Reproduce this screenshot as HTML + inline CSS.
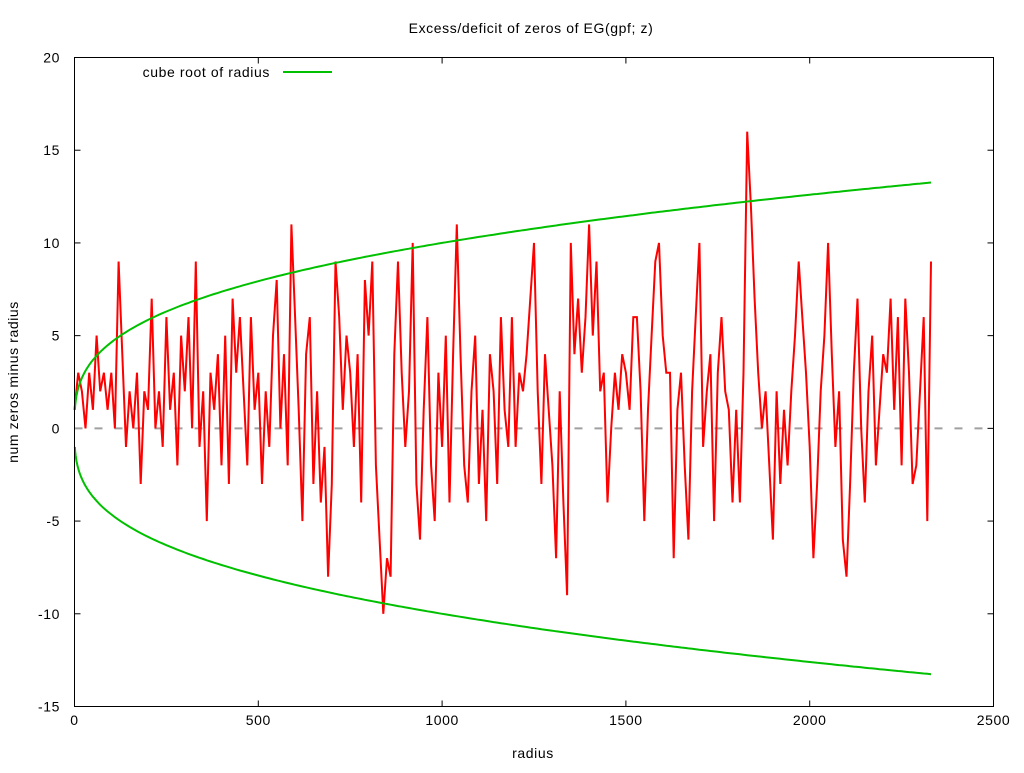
<!DOCTYPE html>
<html><head><meta charset="utf-8"><style>
html,body{margin:0;padding:0;background:#fff;}
svg text{font-family:"Liberation Sans",sans-serif;font-size:14px;letter-spacing:0.6px;fill:#000;}
</style></head><body>
<svg id="chart" width="1024" height="768" xmlns="http://www.w3.org/2000/svg">
<text x="531" y="33" text-anchor="middle">Excess/deficit of zeros of EG(gpf; z)</text>
<text x="533" y="758" text-anchor="middle">radius</text>
<text transform="translate(18,382) rotate(-90)" text-anchor="middle">num zeros minus radius</text>
<g id="ticks"></g>
<line id="zero" stroke="#a0a0a0" stroke-width="2" stroke-dasharray="8,12"/>
<polyline id="red" fill="none" stroke="#ff0000" stroke-width="2"/>
<polyline id="gup" fill="none" stroke="#00c000" stroke-width="2"/>
<polyline id="gdn" fill="none" stroke="#00c000" stroke-width="2"/>
<rect x="74.5" y="57.5" width="919" height="649" fill="none" stroke="#000" stroke-width="1"/>
<g>
<text x="270" y="77" text-anchor="end">cube root of radius</text>
<line x1="283" y1="72" x2="332" y2="72" stroke="#00c000" stroke-width="2"/>
</g>
</svg>
<script>
const xTicks=[0,500,1000,1500,2000,2500];
const yTicks=[-15,-10,-5,0,5,10,15,20];
const step=10;
const excess=[
1,3,2,0,3,1,5,2,3,1,
3,0,9,4,-1,2,0,3,-3,2,
1,7,0,2,-1,6,1,3,-2,5,
2,6,0,9,-1,2,-5,3,1,4,
-2,5,-3,7,3,6,2,-2,6,1,
3,-3,2,-1,5,8,0,4,-2,11,
6,1,-5,4,6,-3,2,-4,-1,-8,
-3,9,6,1,5,3,-1,4,-4,8,
5,9,-2,-6,-10,-7,-8,4,9,3,
-1,2,10,-3,-6,1,6,-2,-5,3,
-1,5,-4,4,11,4,-2,-4,2,5,
-3,1,-5,4,2,-3,6,1,-1,6,
-1,3,2,4,7,10,2,-3,4,1,
-2,-7,2,-4,-9,10,4,7,3,6,
11,5,9,2,3,-4,0,3,1,4,
3,1,6,6,2,-5,1,5,9,10,
5,3,3,-7,1,3,-2,-6,2,6,
10,-1,2,4,-5,3,6,2,1,-4,
1,-4,3,16,12,7,3,0,2,-2,
-6,2,-3,1,-2,2,5,9,6,3,
-1,-7,-3,2,5,10,4,-1,2,-6,
-8,-3,3,7,0,-4,2,5,-2,1,
4,3,7,1,6,-2,7,3,-3,-2,
2,6,-5,9];
const xMax=2330;
const X0=74.5,X1=993.5,Y0=706.5,Y1=57.5;
const xs=v=>X0+(v/2500)*(X1-X0);
const ys=v=>Y0-((v+15)/35)*(Y0-Y1);
const NS='http://www.w3.org/2000/svg';
const g=document.getElementById('ticks');
function mk(tag,attrs){const e=document.createElementNS(NS,tag);for(const k in attrs)e.setAttribute(k,attrs[k]);return e;}
xTicks.forEach(t=>{
  const x=xs(t);
  const a=mk('line',{x1:x,y1:Y0,x2:x,y2:Y0-6,stroke:'#000'});
  
  
  g.appendChild(a);
  const b=mk('line',{x1:x,y1:Y1,x2:x,y2:Y1+6,stroke:'#000'});
  
  
  g.appendChild(b);
  const l=mk('text',{x:x,y:725,'text-anchor':'middle'});l.textContent=t;
  
  
  g.appendChild(l);
});
yTicks.forEach(t=>{
  const y=ys(t);
  const a=mk('line',{x1:X0,y1:y,x2:X0+6,y2:y,stroke:'#000'});
  
  
  g.appendChild(a);
  const b=mk('line',{x1:X1,y1:y,x2:X1-6,y2:y,stroke:'#000'});
  
  
  g.appendChild(b);
  const l=mk('text',{x:60,y:y+5,'text-anchor':'end'});l.textContent=t;
  
  
  g.appendChild(l);
});
const z=document.getElementById('zero');
z.setAttribute('x1',X0);z.setAttribute('x2',X1);z.setAttribute('y1',ys(0));z.setAttribute('y2',ys(0));
document.getElementById('red').setAttribute('points',excess.map((v,i)=>xs(i*step).toFixed(1)+','+ys(v).toFixed(1)).join(' '));
let up=[],dn=[];
for(let r=1;r<=xMax;r+=(r<50?1:10)){up.push(xs(r).toFixed(1)+','+ys(Math.cbrt(r)).toFixed(1));dn.push(xs(r).toFixed(1)+','+ys(-Math.cbrt(r)).toFixed(1));}
document.getElementById('gup').setAttribute('points',up.join(' '));
document.getElementById('gdn').setAttribute('points',dn.join(' '));
</script>
</body></html>
